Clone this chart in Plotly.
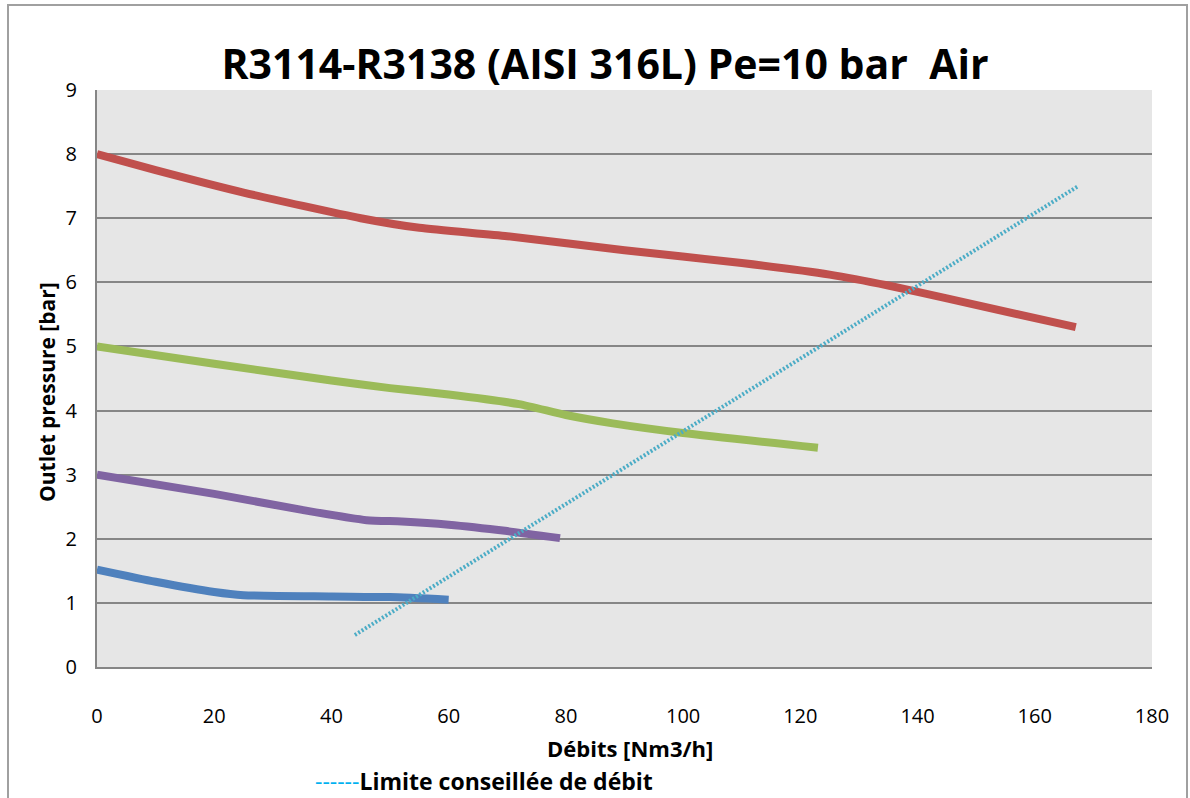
import plotly.graph_objects as go

# Data
red_x = [0, 10, 25, 45, 55, 70, 90, 110, 125, 135, 145, 167]
red_y = [8.0, 7.75, 7.4, 7.0, 6.85, 6.72, 6.5, 6.3, 6.12, 5.95, 5.75, 5.3]

green_x = [0, 20, 40, 50, 60, 72, 80, 88, 100, 123]
green_y = [5.0, 4.73, 4.47, 4.35, 4.25, 4.1, 3.93, 3.8, 3.65, 3.42]

purple_x = [0, 20, 35, 46, 52, 60, 70, 79]
purple_y = [3.0, 2.7, 2.45, 2.29, 2.27, 2.22, 2.12, 2.01]

blue_x = [0, 10, 20, 25, 40, 50, 60]
blue_y = [1.52, 1.33, 1.17, 1.12, 1.1, 1.09, 1.05]

limit_x = [44, 167.4]
limit_y = [0.5, 7.5]

x_ticks = [0, 20, 40, 60, 80, 100, 120, 140, 160, 180]
y_ticks = [0, 1, 2, 3, 4, 5, 6, 7, 8, 9]

title_text = "R3114-R3138 (AISI 316L) Pe=10 bar  Air"
x_title = "Débits [Nm3/h]"
y_title = "Outlet pressure [bar]"
legend_text = "Limite conseillée de débit"

FONT = "Open Sans"
W, H = 1190, 798
PL, PR, PT, PB = 97, 1152, 90, 667  # plot area in page pixels
PW, PH = PR - PL, PB - PT


def px(xp):
    return (xp - PL) / PW


def py(yp):
    return (PB - yp) / PH


fig = go.Figure()
for xs, ys, col in [
    (red_x, red_y, "#C0504D"),
    (green_x, green_y, "#9BBB59"),
    (purple_x, purple_y, "#8064A2"),
    (blue_x, blue_y, "#4F81BD"),
]:
    fig.add_trace(go.Scatter(x=xs, y=ys, mode="lines",
                             line=dict(color=col, width=8, shape="spline", smoothing=0.6),
                             showlegend=False, hoverinfo="skip"))

fig.add_trace(go.Scatter(x=limit_x, y=limit_y, mode="lines",
                         line=dict(color="#4BACC6", width=4, dash="2px,2px"),
                         showlegend=False, hoverinfo="skip"))

fig.update_layout(
    width=W, height=H,
    margin=dict(l=PL, r=W - PR, t=PT, b=H - PB),
    paper_bgcolor="white",
    plot_bgcolor="#E6E6E6",
    font=dict(family=FONT, color="black"),
    title=dict(text="<b>" + title_text + "</b>", x=605 / W, xanchor="center",
               y=1 - 65 / H, yanchor="middle",
               font=dict(family=FONT, size=41, color="black")),
    showlegend=False,
)
fig.update_xaxes(range=[0, 180], tickvals=x_ticks, showgrid=False, zeroline=False,
                 showline=True, linecolor="#868686", linewidth=2,
                 ticks="", ticklabelstandoff=30,
                 tickfont=dict(family=FONT, size=20, color="black"))
fig.update_yaxes(range=[0, 9], tickvals=y_ticks, showgrid=True, gridcolor="#868686",
                 gridwidth=2, zeroline=False,
                 showline=True, linecolor="#868686", linewidth=2,
                 ticks="", ticklabelstandoff=14,
                 tickfont=dict(family=FONT, size=20, color="black"))

fig.add_annotation(text="<b>" + x_title + "</b>", xref="paper", yref="paper",
                   x=px(630), y=py(748), showarrow=False,
                   xanchor="center", yanchor="middle",
                   font=dict(family=FONT, size=22, color="black"))
fig.add_annotation(text="<b>" + y_title + "</b>", xref="paper", yref="paper",
                   x=px(47), y=py(392), showarrow=False,
                   textangle=-90, xanchor="center", yanchor="middle",
                   font=dict(family=FONT, size=21, color="black"))
fig.add_annotation(text="<span style='color:#00B0F0'>------</span><b>" + legend_text + "</b>",
                   xref="paper", yref="paper",
                   x=px(313), y=py(781), showarrow=False,
                   xanchor="left", yanchor="middle",
                   font=dict(family=FONT, size=23, color="black"))

# outer chart border
fig.add_shape(type="rect", xref="paper", yref="paper",
              x0=px(8), x1=px(1187),
              y0=py(805), y1=py(5),
              line=dict(color="#A0A0A0", width=2), fillcolor="rgba(0,0,0,0)")

fig.write_html("out.html", config={"displayModeBar": False},
               post_script="document.body.style.margin='0';document.body.style.overflow='hidden';")
